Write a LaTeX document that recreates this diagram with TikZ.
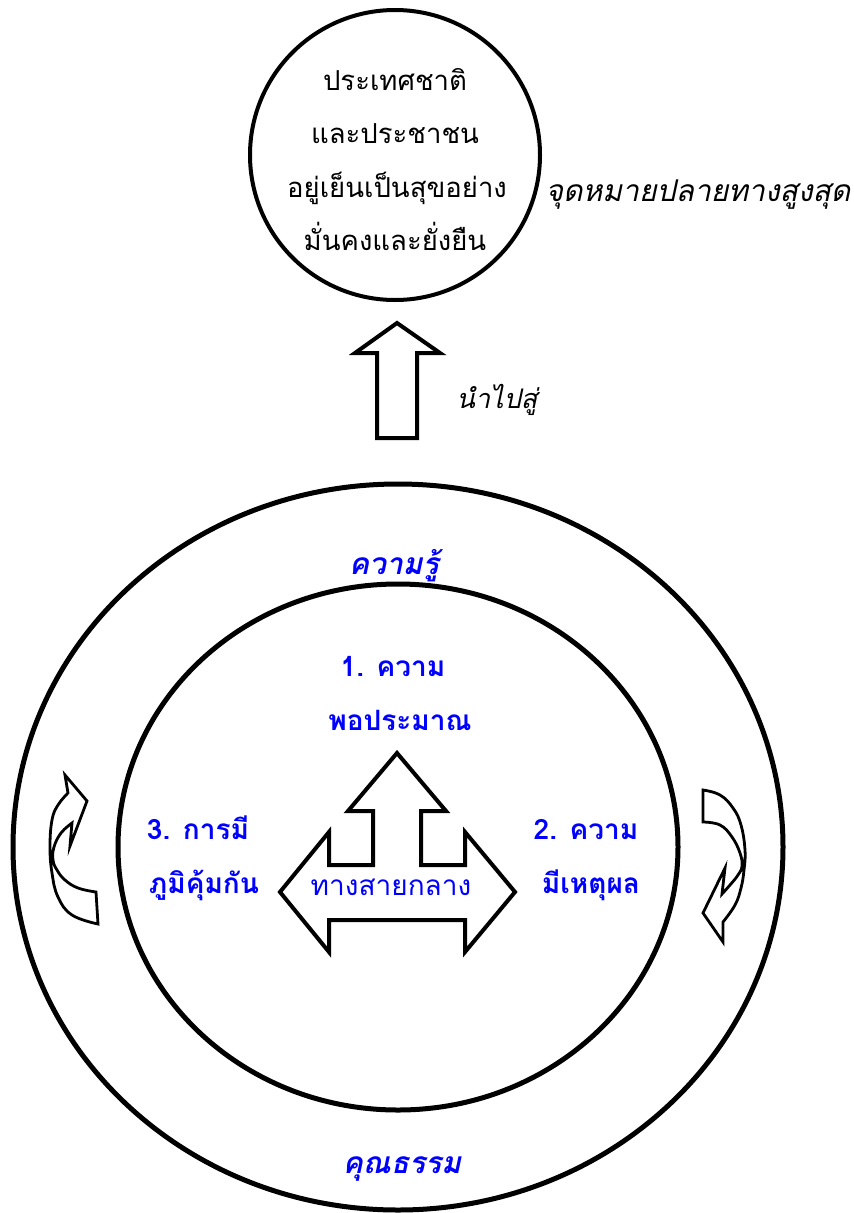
\documentclass[tikz,border=0pt]{standalone}
\usepackage{fontspec}
\usetikzlibrary{shapes.geometric}
\newfontfamily\thai[Script=Thai]{Loma}
\newfontfamily\thaib[Script=Thai]{Loma Bold}
\newfontfamily\thaii[Script=Thai]{Loma Oblique}
\newfontfamily\thaibi[Script=Thai]{Loma Bold Oblique}
\definecolor{tblue}{RGB}{0,0,255}
\begin{document}
\begin{tikzpicture}[x=1pt,y=-1pt,
  ring/.style={draw=black,line width=5pt,ellipse,inner sep=0},
  blk/.style={draw=black,line width=4pt,line join=miter,fill=white},
  curv/.style={draw=black,line width=2.8pt,fill=white,line join=miter},
  goaltxt/.style={font=\thai\fontsize{27.5}{30}\selectfont,anchor=base,inner sep=0},
  lbl/.style={font=\thaib\fontsize{28}{30}\selectfont,text=tblue,anchor=base,inner sep=0},
  ringtxt/.style={font=\thaibi\fontsize{30}{32}\selectfont,text=tblue,anchor=base,inner sep=0},
  itxt/.style={font=\thaii\fontsize{27}{30}\selectfont,anchor=base,inner sep=0},
  goalitxt/.style={font=\thaii\fontsize{30}{34}\selectfont,anchor=base,inner sep=0},
  midtxt/.style={font=\thai\fontsize{28}{30}\selectfont,text=tblue,anchor=base,inner sep=0}]
\useasboundingbox (0,0) rectangle (854,1213);
% top goal circle
\node[circle,draw=black,line width=4pt,minimum size=290pt,inner sep=0] (goal) at (395,155) {};
\node[goaltxt] (g1) at (395,90) {ประเทศชาติ};
\node[goaltxt] (g2) at (395,143) {และประชาชน};
\node[goaltxt] (g3) at (397,197) {อยู่เย็นเป็นสุขอย่าง};
\node[goaltxt] (g4) at (395,250) {มั่นคงและยั่งยืน};
\node[goalitxt] (goallbl) at (698,201) {จุดหมายปลายทางสูงสุด};
% up block arrow
\draw[blk] (397,323) -- (440,353) -- (417,353) -- (417,438) -- (377,438) -- (377,353) -- (355,353) -- cycle;
\node[itxt] (leads) at (497,408) {นำไปสู่};
% rings
\node[ring,minimum width=770pt,minimum height=726pt] (outer) at (398,847) {};
\node[ring,minimum width=560pt,minimum height=526pt] (inner) at (398,847) {};
\node[ringtxt] (know) at (394,574) {ความรู้};
\node[ringtxt] (moral) at (402,1173) {คุณธรรม};
% three labels
\node[lbl] (l1a) at (393,676) {1. ความ};
\node[lbl] (l1b) at (400,730) {พอประมาณ};
\node[lbl] (l2a) at (586,839) {2. ความ};
\node[lbl] (l2b) at (591,893) {มีเหตุผล};
\node[lbl] (l3a) at (198,839) {3. การมี};
\node[lbl] (l3b) at (204,893) {ภูมิคุ้มกัน};
% three-way arrow
\draw[blk] (397,753) -- (446,811) -- (421,811) -- (421,865) -- (465,865) -- (465,832) -- (515,892)
  -- (465,952) -- (465,920) -- (329,920) -- (329,952) -- (280,892) -- (329,832) -- (329,865)
  -- (373,865) -- (373,811) -- (348,811) -- cycle;
\node[midtxt] (mid) at (391,895) {ทางสายกลาง};
% left curved arrow
\draw[curv] plot[smooth,tension=0.7] coordinates {(98,924) (72,915) (58,897) (52,873) (50,847) (52,820) (58,805) (68,793)}
  -- (65,775) -- (87,801) -- (70,846) -- (72,823)
  -- plot[smooth,tension=0.7] coordinates {(72,823) (61,833) (54,847) (53,860) (57,870) (65,880) (78,888) (96,892)} -- cycle;
% right curved arrow
\draw[curv] plot[smooth,tension=0.7] coordinates {(703,790) (720,795) (733,808) (741,825) (745,850) (744,870) (741,888) (735,905) (723,922)}
  -- (723,942) -- (703,913) -- (725,868) -- (722,894)
  -- plot[smooth,tension=0.7] coordinates {(722,894) (730,885) (738,875) (742,866) (740,853) (732,837) (720,825) (703,822)} -- cycle;
\end{tikzpicture}
\end{document}
